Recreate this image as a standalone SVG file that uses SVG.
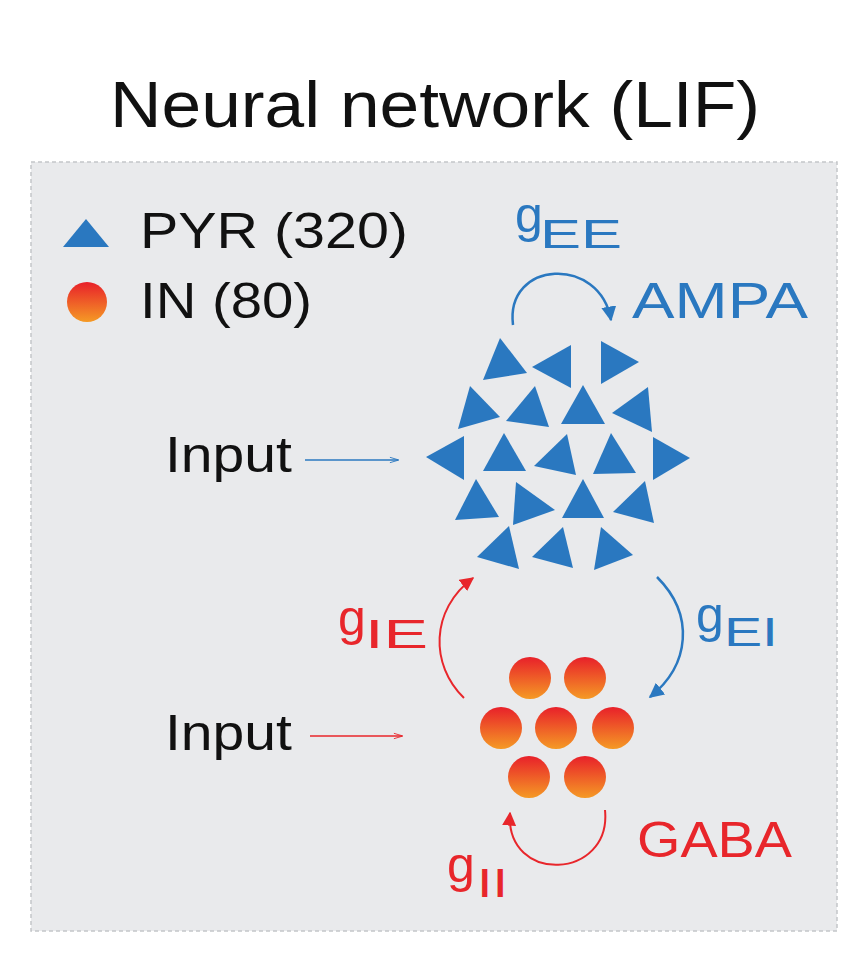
<svg xmlns="http://www.w3.org/2000/svg" width="858" height="966" viewBox="0 0 858 966">
<defs>
<linearGradient id="og" x1="0" y1="0" x2="0" y2="1"><stop offset="0" stop-color="#e8202a"/><stop offset="1" stop-color="#f59a25"/></linearGradient>
<marker id="ab" viewBox="0 0 10 10" refX="9" refY="5" markerWidth="6" markerHeight="6" orient="auto" markerUnits="strokeWidth"><path d="M0,0L10,5L0,10z" fill="#2a78c0"/></marker>
<marker id="ar" viewBox="0 0 10 10" refX="9" refY="5" markerWidth="7" markerHeight="7" orient="auto" markerUnits="strokeWidth"><path d="M0,0L10,5L0,10z" fill="#e8262b"/></marker>
<marker id="sb" viewBox="0 0 10 10" refX="9" refY="5" markerWidth="8" markerHeight="6" orient="auto" markerUnits="strokeWidth"><path d="M0,2L10,5L0,8" fill="none" stroke="#2a78c0" stroke-width="1"/></marker>
<marker id="sr" viewBox="0 0 10 10" refX="9" refY="5" markerWidth="8" markerHeight="6" orient="auto" markerUnits="strokeWidth"><path d="M0,2L10,5L0,8" fill="none" stroke="#e8262b" stroke-width="1"/></marker>
</defs>
<style>
text{font-family:"Liberation Sans",Arial,sans-serif}
.t{font-size:50px}
.s{font-size:40px}
.b{fill:#2a78c0}
.r{fill:#e8262b}
.tri polygon{fill:#2a78c0}
</style>
<rect width="858" height="966" fill="#fff"/>
<text x="110" y="127" font-size="64" fill="#111" textLength="650" lengthAdjust="spacingAndGlyphs">Neural network (LIF)</text>
<rect x="31" y="162" width="806" height="769" fill="#e9eaec" stroke="#c4c6c9" stroke-width="1.5" stroke-dasharray="4 3"/>
<g id="legend">
<polygon points="86,219 109,247 63,247" fill="#2a78c0"/>
<text class="t" x="140" y="248" fill="#111" textLength="268" lengthAdjust="spacingAndGlyphs">PYR (320)</text>
<circle cx="87" cy="302" r="20" fill="url(#og)"/>
<text class="t" x="140" y="318" fill="#111" textLength="172" lengthAdjust="spacingAndGlyphs">IN (80)</text>
</g>
<g id="pyr" class="tri">
<polygon points="500,338 527,373 483,380"/>
<polygon points="571,345 571,388 532,367"/>
<polygon points="601,341 639,362 601,384"/>
<polygon points="470,386 500,417 458,429"/>
<polygon points="535,386 549,427 506,421"/>
<polygon points="583,385 605,424 561,424"/>
<polygon points="648,387 652,432 612,413"/>
<polygon points="464,436 464,480 426,457"/>
<polygon points="504,433 526,471 483,471"/>
<polygon points="567,434 576,475 534,466"/>
<polygon points="611,433 636,473 593,474"/>
<polygon points="653,437 690,458 653,480"/>
<polygon points="476,479 499,517 455,520"/>
<polygon points="516,482 555,510 513,525"/>
<polygon points="583,479 604,518 562,518"/>
<polygon points="645,481 654,523 613,512"/>
<polygon points="509,526 519,569 477,557"/>
<polygon points="563,527 573,568 532,557"/>
<polygon points="601,527 633,555 594,570"/>
</g>
<g id="in">
<circle cx="530" cy="678" r="21" fill="url(#og)"/>
<circle cx="585" cy="678" r="21" fill="url(#og)"/>
<circle cx="501" cy="728" r="21" fill="url(#og)"/>
<circle cx="556" cy="728" r="21" fill="url(#og)"/>
<circle cx="613" cy="728" r="21" fill="url(#og)"/>
<circle cx="529" cy="777" r="21" fill="url(#og)"/>
<circle cx="585" cy="777" r="21" fill="url(#og)"/>
</g>
<g id="connectors" fill="none" stroke-width="2.5">
<path d="M513,325 C505,260 600,255 611,320" stroke="#2a78c0" marker-end="url(#ab)"/>
<path d="M657,577 C695,615 690,665 650,697" stroke="#2a78c0" marker-end="url(#ab)"/>
<path d="M464,698 C430,665 430,610 473,578" stroke="#e8262b" stroke-width="2" marker-end="url(#ar)"/>
<path d="M605,810 C612,880 505,885 510,813" stroke="#e8262b" stroke-width="2" marker-end="url(#ar)"/>
<path d="M305,460 L398,460" stroke="#2a78c0" stroke-width="1.5" marker-end="url(#sb)"/>
<path d="M310,736 L402,736" stroke="#e8262b" stroke-width="1.5" marker-end="url(#sr)"/>
</g>
<g id="labels">
<text class="t b" x="515" y="232">g</text><text class="s b" x="540" y="248" textLength="82" lengthAdjust="spacingAndGlyphs">EE</text>
<text class="t b" x="632" y="318" textLength="176" lengthAdjust="spacingAndGlyphs">AMPA</text>
<text class="t" x="165" y="472" fill="#111" textLength="127" lengthAdjust="spacingAndGlyphs">Input</text>
<text class="t" x="165" y="750" fill="#111" textLength="127" lengthAdjust="spacingAndGlyphs">Input</text>
<text class="t r" x="338" y="635">g</text><text class="s r" x="365" y="648" textLength="63" lengthAdjust="spacingAndGlyphs">IE</text>
<text class="t b" x="696" y="632">g</text><text class="s b" x="724" y="646" textLength="54" lengthAdjust="spacingAndGlyphs">EI</text>
<text class="t r" x="637" y="857" textLength="155" lengthAdjust="spacingAndGlyphs">GABA</text>
<text class="t r" x="447" y="882">g</text><text class="s r" x="477" y="897" textLength="31" lengthAdjust="spacingAndGlyphs">II</text>
</g>
</svg>
